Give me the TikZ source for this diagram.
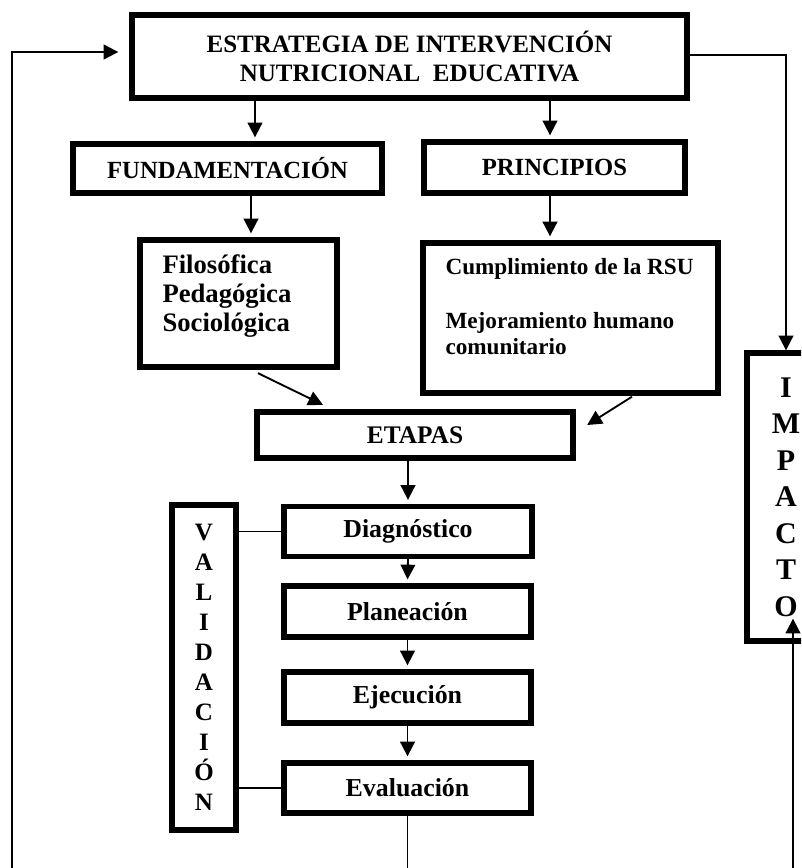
\documentclass[tikz,border=0pt]{standalone}
\usepackage{fontspec}
\setmainfont{Liberation Serif}
\usetikzlibrary{arrows.meta,calc}

\tikzset{every picture/.style={line width=0.75pt}}
\tikzset{
  box/.style={draw, line width=4pt, inner sep=0pt, align=center},
  arr/.style={line width=1.4pt, -{Triangle[length=11pt,width=11pt]}},
  gap/.style={shorten >=3pt},
  wire/.style={line width=1.2pt},
}

\begin{document}
\begin{tikzpicture}[x=0.75pt,y=0.75pt,yscale=-1,xscale=1]
\useasboundingbox (0,0) rectangle (801,868);
\fill[white] (0,0) rectangle (801,868);
\clip (0,0) rectangle (801,868);

%Shape: Rectangle
\node[box, minimum width=416.25pt, minimum height=62.25pt, font=\bfseries\fontsize{18.75pt}{21.75pt}\selectfont] (estrategia) at (409.5,56.5) {ESTRATEGIA DE INTERVENCIÓN\\NUTRICIONAL\ \ EDUCATIVA};
%Shape: Rectangle
\node[box, minimum width=231.75pt, minimum height=36.75pt, font=\bfseries\fontsize{18.5pt}{22pt}\selectfont] (fundamentacion) at (227.5,168.5) {FUNDAMENTACIÓN};
%Shape: Rectangle
\node[box, minimum width=195.75pt, minimum height=38.25pt, font=\bfseries\fontsize{18.5pt}{22pt}\selectfont] (principios) at (554.5,167.5) {PRINCIPIOS};
%Shape: Rectangle
\node[box, minimum width=147.75pt, minimum height=95.25pt] (filosofica) at (238.5,303.5) {};
%Shape: Rectangle
\node[box, minimum width=221.25pt, minimum height=112.5pt] (cumplimiento) at (570.5,318) {};
%Shape: Rectangle
\node[box, minimum width=237pt, minimum height=34.5pt, font=\bfseries\fontsize{19pt}{22pt}\selectfont] (etapas) at (415,435) {ETAPAS};
%Shape: Rectangle
\node[box, minimum width=186pt, minimum height=37.5pt, font=\bfseries\fontsize{19.4pt}{22pt}\selectfont] (diagnostico) at (408,531.5) {Diagnóstico};
%Shape: Rectangle
\node[box, minimum width=185.25pt, minimum height=38.25pt, font=\bfseries\fontsize{19.4pt}{22pt}\selectfont] (planeacion) at (407.5,611.5) {Planeación};
%Shape: Rectangle
\node[box, minimum width=185.25pt, minimum height=38.25pt, font=\bfseries\fontsize{19.4pt}{22pt}\selectfont] (ejecucion) at (407.5,697.5) {Ejecución};
%Shape: Rectangle
\node[box, minimum width=185.25pt, minimum height=37.5pt, font=\bfseries\fontsize{19.4pt}{22pt}\selectfont] (evaluacion) at (407.5,788) {Evaluación};
%Shape: Rectangle
\node[box, minimum width=48pt, minimum height=243.75pt, font=\bfseries\fontsize{18.75pt}{22.5pt}\selectfont] (validacion) at (204,667.5) {V\\A\\L\\I\\D\\A\\C\\I\\Ó\\N};
%Shape: Rectangle
\node[box, minimum width=58.5pt, minimum height=216pt, font=\bfseries\fontsize{22.5pt}{27.4pt}\selectfont] (impacto) at (786,497) {I\\M\\P\\A\\C\\T\\O};

% Text Node
\node[anchor=west, align=left, inner sep=0pt, font=\bfseries\fontsize{20pt}{21.75pt}\selectfont] (filosoficatxt) at (162,296) {Filosófica\\Pedagógica\\Sociológica};
% Text Node
\node[anchor=west, align=left, inner sep=0pt, font=\bfseries\fontsize{17.4pt}{20pt}\selectfont] (cumplimientotxt) at (445,307) {Cumplimiento de la RSU\\[20pt]Mejoramiento humano\\comunitario};

\coordinate (esqizq) at (12,868);
\coordinate (esqder) at (793,868);

%Straight Lines
\draw[arr] (esqizq) |- ($(estrategia.west)+(-11,-4.5)$);
%Straight Lines
\draw[arr] ($(estrategia.east)+(0,-1.5)$) -| (impacto.north);
%Straight Lines
\draw[arr, gap] (estrategia.south -| 255,0) -- (fundamentacion.north -| 255,0);
\draw[arr, gap] (estrategia.south -| 550,0) -- (principios.north -| 550,0);
%Straight Lines
\draw[arr, gap] (fundamentacion.south -| 251,0) -- (filosofica.north -| 251,0);
\draw[arr, gap] (principios.south -| 550,0) -- (cumplimiento.north -| 550,0);
%Straight Lines
\draw[arr] ($(filosofica.south -| 258,0)+(0,3.5)$) -- ($(etapas.north -| 323,0)+(0,-4.5)$);
\draw[arr] ($(cumplimiento.south -| 632,0)+(0,1)$) -- ($(etapas.east)+(11.5,-10)$);
%Straight Lines
\draw[arr, gap] (etapas.south -| diagnostico.north) -- (diagnostico.north);
\draw[arr, gap] (diagnostico.south) -- (planeacion.north);
\draw[arr, gap] (planeacion.south) -- (ejecucion.north);
\draw[arr, gap] (ejecucion.south) -- (evaluacion.north);
%Straight Lines
\draw[wire] (validacion.east |- diagnostico.west) -- (diagnostico.west);
\draw[wire] (validacion.east |- evaluacion.west) -- (evaluacion.west);
%Straight Lines
\draw[wire] (evaluacion.south) -- (evaluacion.south |- esqizq);
\draw[arr] (esqder) -- ($(impacto.south -| esqder)+(0,-25)$);

\end{tikzpicture}
\end{document}
